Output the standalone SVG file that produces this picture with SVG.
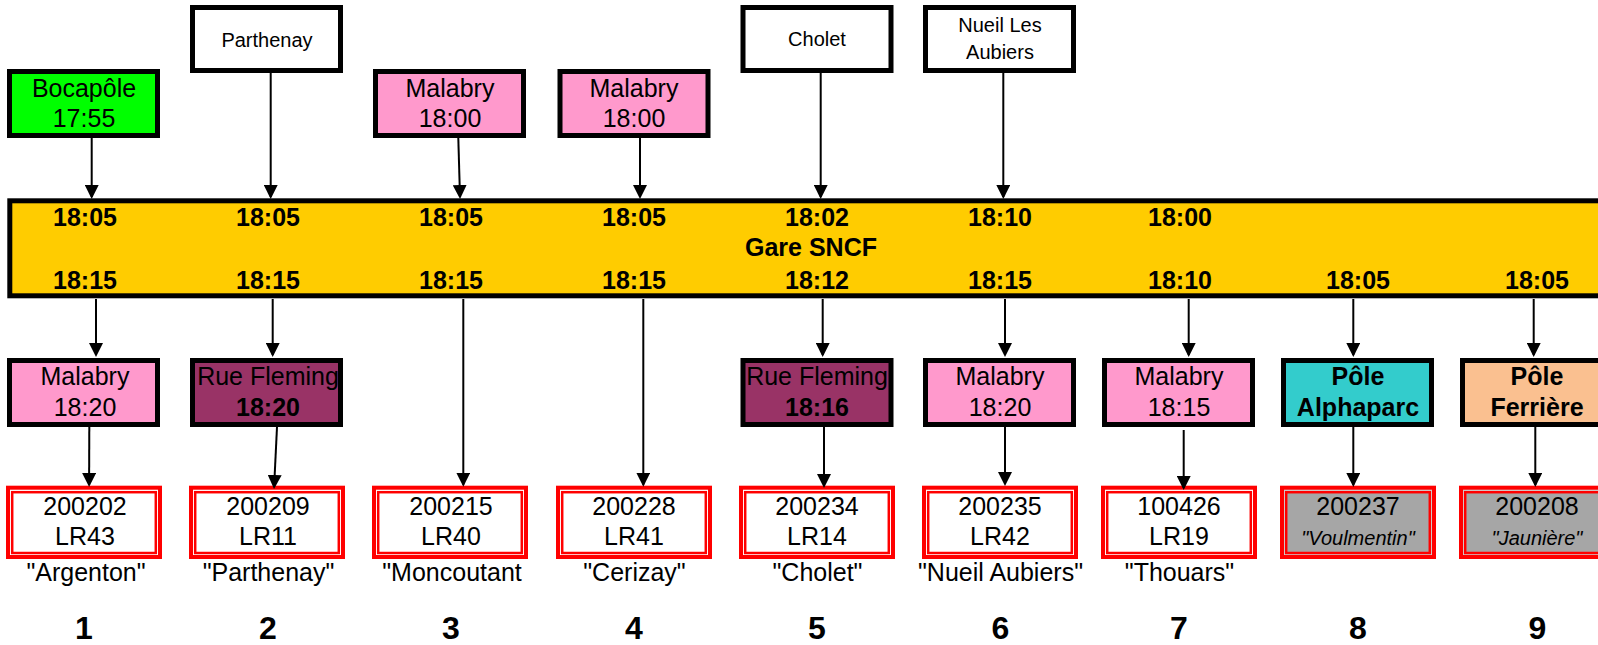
<svg xmlns="http://www.w3.org/2000/svg" width="1598" height="645" viewBox="0 0 1598 645">
<defs>
<marker id="ah" markerUnits="userSpaceOnUse" markerWidth="14" markerHeight="14" refX="12" refY="7" orient="auto">
<path d="M0,0 L14,7 L0,14 z" fill="#000"/>
</marker>
<style>
text{font-family:"Liberation Sans",Arial,sans-serif;fill:#000;text-anchor:middle}
.t25{font-size:25px}
.t20{font-size:20px}
.b{font-weight:bold}
.it{font-style:italic;font-size:20px}
.num{font-size:32px;font-weight:bold}
.box{stroke:#000;stroke-width:5}
.wh{fill:#fff}
.gr{fill:#00FF00}
.pk{fill:#FF99CC}
.rf{fill:#993366}
.tl{fill:#33CCCC}
.pc{fill:#FAC090}
.ro{fill:#fff;stroke:#FF0000;stroke-width:4}
.ri{fill:#fff;stroke:#FF0000;stroke-width:2.5}
.rog{fill:#CFCFCF;stroke:#FF0000;stroke-width:4}
.rig{fill:#A6A6A6;stroke:#FF0000;stroke-width:2.5}
.cn{stroke:#000;stroke-width:2;fill:none;marker-end:url(#ah)}
</style>
</defs>
<rect width="1598" height="645" fill="#fff"/>

<g id="gare">
<rect x="9.8" y="200.8" width="1600" height="95" fill="#FFCC00" stroke="#000" stroke-width="5"/>
<text class="t25 b" x="85" y="226">18:05</text>
<text class="t25 b" x="268" y="226">18:05</text>
<text class="t25 b" x="451" y="226">18:05</text>
<text class="t25 b" x="634" y="226">18:05</text>
<text class="t25 b" x="817" y="226">18:02</text>
<text class="t25 b" x="1000" y="226">18:10</text>
<text class="t25 b" x="1180" y="226">18:00</text>
<text class="t25 b" x="811" y="256">Gare SNCF</text>
<text class="t25 b" x="85" y="289">18:15</text>
<text class="t25 b" x="268" y="289">18:15</text>
<text class="t25 b" x="451" y="289">18:15</text>
<text class="t25 b" x="634" y="289">18:15</text>
<text class="t25 b" x="817" y="289">18:12</text>
<text class="t25 b" x="1000" y="289">18:15</text>
<text class="t25 b" x="1180" y="289">18:10</text>
<text class="t25 b" x="1358" y="289">18:05</text>
<text class="t25 b" x="1537" y="289">18:05</text>
</g>

<g id="top1"><rect class="box gr" x="9.5" y="71.5" width="148" height="64"/><text class="t25" x="84" y="97">Bocapôle</text><text class="t25" x="84" y="127">17:55</text></g>
<g id="top2"><rect class="box wh" x="192.5" y="7.5" width="148" height="63"/><text class="t20" x="267" y="47">Parthenay</text></g>
<g id="top3"><rect class="box pk" x="375.5" y="71.5" width="148" height="64"/><text class="t25" x="450" y="97">Malabry</text><text class="t25" x="450" y="127">18:00</text></g>
<g id="top4"><rect class="box pk" x="560" y="71.5" width="148" height="64"/><text class="t25" x="634" y="97">Malabry</text><text class="t25" x="634" y="127">18:00</text></g>
<g id="top5"><rect class="box wh" x="743" y="7.5" width="148" height="63"/><text class="t20" x="817" y="46">Cholet</text></g>
<g id="top6"><rect class="box wh" x="925.5" y="7.5" width="148" height="63"/><text class="t20" x="1000" y="32">Nueil Les</text><text class="t20" x="1000" y="59">Aubiers</text></g>

<g id="mid1"><rect class="box pk" x="9.5" y="360.5" width="148" height="64"/><text class="t25" x="85" y="385">Malabry</text><text class="t25" x="85" y="416">18:20</text></g>
<g id="mid2"><rect class="box rf" x="192.5" y="360.5" width="148" height="64"/><text class="t25" x="268" y="385">Rue Fleming</text><text class="t25 b" x="268" y="416">18:20</text></g>
<g id="mid5"><rect class="box rf" x="743" y="360.5" width="148" height="64"/><text class="t25" x="817" y="385">Rue Fleming</text><text class="t25 b" x="817" y="416">18:16</text></g>
<g id="mid6"><rect class="box pk" x="925.5" y="360.5" width="148" height="64"/><text class="t25" x="1000" y="385">Malabry</text><text class="t25" x="1000" y="416">18:20</text></g>
<g id="mid7"><rect class="box pk" x="1104.5" y="360.5" width="148" height="64"/><text class="t25" x="1179" y="385">Malabry</text><text class="t25" x="1179" y="416">18:15</text></g>
<g id="mid8"><rect class="box tl" x="1283.5" y="360.5" width="148" height="64"/><text class="t25 b" x="1358" y="385">Pôle</text><text class="t25 b" x="1358" y="416">Alphaparc</text></g>
<g id="mid9"><rect class="box pc" x="1462.5" y="360.5" width="148" height="64"/><text class="t25 b" x="1537" y="385">Pôle</text><text class="t25 b" x="1537" y="416">Ferrière</text></g>

<g id="dest1"><rect class="ro" x="8" y="487.7" width="152" height="69.3"/><rect class="ri" x="12.2" y="492.2" width="143.6" height="60.8"/><text class="t25" x="85" y="515">200202</text><text class="t25" x="85" y="545">LR43</text><text class="t25" x="86" y="581">"Argenton"</text></g>
<g id="dest2"><rect class="ro" x="191" y="487.7" width="152" height="69.3"/><rect class="ri" x="195.2" y="492.2" width="143.6" height="60.8"/><text class="t25" x="268" y="515">200209</text><text class="t25" x="268" y="545">LR11</text><text class="t25" x="268.5" y="581">"Parthenay"</text></g>
<g id="dest3"><rect class="ro" x="374" y="487.7" width="152" height="69.3"/><rect class="ri" x="378.2" y="492.2" width="143.6" height="60.8"/><text class="t25" x="451" y="515">200215</text><text class="t25" x="451" y="545">LR40</text><text class="t25" x="452" y="581">"Moncoutant</text></g>
<g id="dest4"><rect class="ro" x="558" y="487.7" width="152" height="69.3"/><rect class="ri" x="562.2" y="492.2" width="143.6" height="60.8"/><text class="t25" x="634" y="515">200228</text><text class="t25" x="634" y="545">LR41</text><text class="t25" x="634.5" y="581">"Cerizay"</text></g>
<g id="dest5"><rect class="ro" x="741" y="487.7" width="152" height="69.3"/><rect class="ri" x="745.2" y="492.2" width="143.6" height="60.8"/><text class="t25" x="817" y="515">200234</text><text class="t25" x="817" y="545">LR14</text><text class="t25" x="817.5" y="581">"Cholet"</text></g>
<g id="dest6"><rect class="ro" x="924" y="487.7" width="152" height="69.3"/><rect class="ri" x="928.2" y="492.2" width="143.6" height="60.8"/><text class="t25" x="1000" y="515">200235</text><text class="t25" x="1000" y="545">LR42</text><text class="t25" x="1000.5" y="581">"Nueil Aubiers"</text></g>
<g id="dest7"><rect class="ro" x="1103" y="487.7" width="152" height="69.3"/><rect class="ri" x="1107.2" y="492.2" width="143.6" height="60.8"/><text class="t25" x="1179" y="515">100426</text><text class="t25" x="1179" y="545">LR19</text><text class="t25" x="1179.5" y="581">"Thouars"</text></g>
<g id="dest8"><rect class="rog" x="1282" y="487.7" width="152" height="69.3"/><rect class="rig" x="1286.2" y="492.2" width="143.6" height="60.8"/><text class="t25" x="1358" y="515">200237</text><text class="it" x="1358" y="545">"Voulmentin"</text></g>
<g id="dest9"><rect class="rog" x="1461" y="487.7" width="152" height="69.3"/><rect class="rig" x="1465.2" y="492.2" width="143.6" height="60.8"/><text class="t25" x="1537" y="515">200208</text><text class="it" x="1537" y="545">"Jaunière"</text></g>

<g id="numbers">
<text class="num" x="84" y="639">1</text>
<text class="num" x="268" y="639">2</text>
<text class="num" x="451" y="639">3</text>
<text class="num" x="634" y="639">4</text>
<text class="num" x="817" y="639">5</text>
<text class="num" x="1000.5" y="639">6</text>
<text class="num" x="1179" y="639">7</text>
<text class="num" x="1358" y="639">8</text>
<text class="num" x="1537.5" y="639">9</text>
</g>

<g id="connectors">
<path class="cn" d="M91.7,138 L91.7,197"/>
<path class="cn" d="M270.7,73 L270.7,197"/>
<path class="cn" d="M458.3,138 L460,197"/>
<path class="cn" d="M640,138 L640,197"/>
<path class="cn" d="M820.7,73 L820.7,197"/>
<path class="cn" d="M1003.3,73 L1003.3,197"/>
<path class="cn" d="M96,299 L96,355"/>
<path class="cn" d="M272.7,299 L272.7,355"/>
<path class="cn" d="M463.3,299 L463.3,484.7"/>
<path class="cn" d="M643.3,299 L643.3,484.7"/>
<path class="cn" d="M822.7,299 L822.7,355"/>
<path class="cn" d="M1005,299 L1005,355"/>
<path class="cn" d="M1188.7,299 L1188.7,355"/>
<path class="cn" d="M1353.3,299 L1353.3,355"/>
<path class="cn" d="M1533.7,299 L1533.7,355"/>
<path class="cn" d="M89.3,427 L89.1,485"/>
<path class="cn" d="M277,427 L274.1,487"/>
<path class="cn" d="M824,427 L824,486"/>
<path class="cn" d="M1005,427 L1005,484"/>
<path class="cn" d="M1183.7,430 L1183.7,488"/>
<path class="cn" d="M1353.3,427 L1353.3,485"/>
<path class="cn" d="M1535.3,427 L1535.3,485"/>
</g>
</svg>
